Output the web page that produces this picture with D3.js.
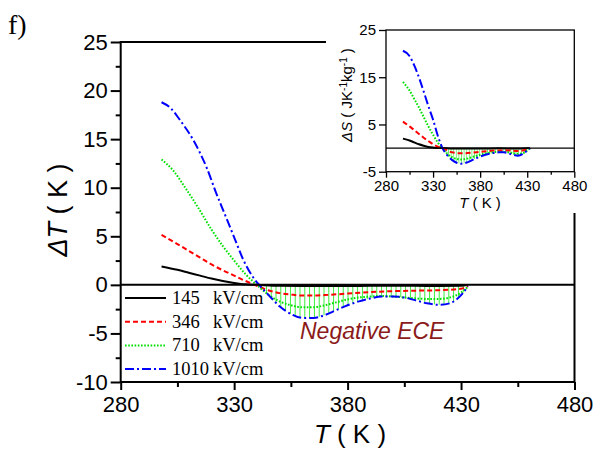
<!DOCTYPE html>
<html><head><meta charset="utf-8">
<script src="https://cdn.jsdelivr.net/npm/d3@7"></script>
<style>body{margin:0;background:#fff}svg{display:block}</style>
</head><body>
<script>
// ---- Data (main panel: ΔT in K vs T in K) ----
const T145 = [298,305,310,315,320,325,330,335,340,350,360,370,380,390,400,410,420,430,433];
const dT145 = [1.9,1.55,1.25,0.95,0.65,0.4,0.2,0.05,0,-0.1,-0.12,-0.12,-0.12,-0.1,-0.1,-0.1,-0.12,-0.1,0];
const T346 = [298,305,310,315,320,325,330,335,338,340,345,350,355,360,365,370,380,390,400,410,420,430,433];
const dT346 = [5.15,4.2,3.5,2.8,2.1,1.5,0.95,0.4,0.1,-0.1,-0.55,-0.85,-1.0,-1.1,-1.1,-1.05,-0.9,-0.75,-0.65,-0.6,-0.55,-0.4,-0.1];
const T710 = [298,303,309,314,320,325,330,335,340,345,350,355,360,365,370,375,380,385,390,395,400,405,410,415,420,425,430,433];
const dT710 = [12.9,11.8,9.8,8.0,5.7,4.0,2.5,1.1,0,-1.0,-1.7,-2.1,-2.3,-2.3,-2.1,-1.8,-1.5,-1.3,-1.2,-1.15,-1.2,-1.3,-1.4,-1.45,-1.45,-1.3,-0.8,-0.2];
const T1010 = [298,302,306,312,318,322,326,330,334,338,341,345,350,355,360,365,370,375,380,385,390,395,400,405,410,415,420,425,428,431,433];
const dT1010 = [18.8,18.2,17.0,14.9,12.0,9.5,7.2,4.9,2.6,0.9,0,-1.0,-2.2,-3.0,-3.4,-3.4,-3.1,-2.6,-2.1,-1.7,-1.4,-1.2,-1.2,-1.3,-1.6,-1.9,-2.05,-1.9,-1.5,-0.8,-0.15];

// ---- Data (inset: ΔS in J K^-1 kg^-1 vs T) ----
const sT145 = [298,305,310,315,320,325,330,335,340,350,380,400,420,433];
const dS145 = [2.0,1.6,1.2,0.8,0.5,0.25,0.1,0,0,-0.1,-0.1,-0.05,-0.1,0];
const sT346 = [298,305,310,315,320,325,330,335,340,345,350,360,370,380,390,400,410,420,430,433];
const dS346 = [5.6,4.6,3.8,3.0,2.2,1.5,0.8,0.3,0,-0.5,-0.9,-1.1,-1.0,-0.8,-0.6,-0.5,-0.5,-0.6,-0.3,0];
const sT710 = [298,305,310,315,320,325,330,335,340,345,350,355,360,365,370,380,390,400,410,420,425,430,433];
const dS710 = [14.0,12.2,10.4,8.6,6.6,4.6,2.8,1.2,0,-1.2,-1.9,-2.3,-2.4,-2.3,-2.0,-1.4,-1.0,-0.8,-0.9,-1.2,-1.1,-0.5,0];
const sT1010 = [298,305,310,316,320,326,330,335,340,345,350,355,360,365,370,375,380,390,400,405,410,415,420,425,430,433];
const dS1010 = [20.6,19.5,17.5,14.4,12.0,8.3,6.0,2.6,0,-1.5,-2.5,-3.1,-3.3,-3.1,-2.7,-2.2,-1.8,-1.2,-0.9,-0.9,-1.1,-1.4,-1.6,-1.3,-0.5,0];

// ---- Labels / ticks ----
const fields = ["145", "346", "710", "1010"];
const unit = "kV/cm";
const colors = ["#000000", "#ff0000", "#00e000", "#0000ff"];
const dashes = [null, "5,3", "1.6,1.6", "9,3,2,3"];
const xTicks = [280, 330, 380, 430, 480];
const xMinor = [305, 355, 405, 455];
const yTicks = [25, 20, 15, 10, 5, 0, -5, -10];
const yMinor = [22.5, 17.5, 12.5, 7.5, 2.5, -2.5, -7.5];
const insetYTicks = [25, 15, 5, -5];
const annotation = "Negative ECE";

const W = 604, H = 450;
const svg = d3.select("body").append("svg").attr("width", W).attr("height", H);
const fmt = d => String(d);

const defs = svg.append("defs");
defs.append("pattern").attr("id", "hatch").attr("patternUnits", "userSpaceOnUse")
  .attr("width", 4.8).attr("height", 10)
  .append("line").attr("x1", 2.4).attr("x2", 2.4).attr("y1", 0).attr("y2", 10)
  .attr("stroke", "#33ee33").attr("stroke-width", 1);
defs.append("pattern").attr("id", "hatch2").attr("patternUnits", "userSpaceOnUse")
  .attr("width", 2.6).attr("height", 10)
  .append("line").attr("x1", 1.3).attr("x2", 1.3).attr("y1", 0).attr("y2", 10)
  .attr("stroke", "#55ee55").attr("stroke-width", 0.8);

const series = [[T145, dT145], [T346, dT346], [T710, dT710], [T1010, dT1010]];
const iseries = [[sT145, dS145], [sT346, dS346], [sT710, dS710], [sT1010, dS1010]];

// ---- Main panel ----
const x = d3.scaleLinear().domain([280, 480]).range([120.7, 574.5]);
const y = d3.scaleLinear().domain([-10, 25]).range([382, 42]);
const main = svg.append("g");

const line = d3.line().x(d => x(d[0])).y(d => y(d[1])).curve(d3.curveMonotoneX);
const zip = (a, b) => a.map((t, i) => [t, b[i]]);

const negBlue = zip(T1010, dT1010).filter(d => d[0] >= 341);
main.append("path").datum(negBlue)
  .attr("d", d3.area().x(d => x(d[0])).y0(y(0)).y1(d => y(d[1])).curve(d3.curveMonotoneX))
  .attr("fill", "url(#hatch)");

series.forEach((s, i) => {
  main.append("path").datum(zip(s[0], s[1])).attr("d", line)
    .attr("fill", "none").attr("stroke", colors[i]).attr("stroke-width", 2)
    .attr("stroke-dasharray", dashes[i]);
});
main.append("line").attr("x1", x(280)).attr("x2", x(480)).attr("y1", y(0)).attr("y2", y(0))
  .attr("stroke", "#000").attr("stroke-width", 2);

const gx = main.append("g").attr("transform", `translate(0,${y(-10)})`)
  .call(d3.axisBottom(x).tickValues(xTicks).tickFormat(fmt).tickSize(8).tickSizeOuter(0).tickPadding(6));
const gxm = main.append("g").attr("transform", `translate(0,${y(-10)})`)
  .call(d3.axisBottom(x).tickValues(xMinor).tickSize(5).tickFormat(""));
const gy = main.append("g").attr("transform", `translate(${x(280)},0)`)
  .call(d3.axisLeft(y).tickValues(yTicks).tickFormat(fmt).tickSize(10).tickSizeOuter(0).tickPadding(3));
const gym = main.append("g").attr("transform", `translate(${x(280)},0)`)
  .call(d3.axisLeft(y).tickValues(yMinor).tickSize(5).tickFormat(""));
[gx, gxm, gy, gym].forEach(g => {
  g.select(".domain").remove();
  g.selectAll(".tick line").attr("stroke", "#000").attr("stroke-width", 2);
  g.selectAll("text").attr("font-family", "Arial, 'Liberation Sans', sans-serif")
    .attr("font-size", 22).attr("fill", "#000");
});
gx.selectAll("text").attr("dy", "0.71em");
main.append("rect").attr("x", x(280)).attr("y", y(25))
  .attr("width", x(480) - x(280)).attr("height", y(-10) - y(25))
  .attr("fill", "none").attr("stroke", "#000").attr("stroke-width", 2);

const legend = main.append("g");
fields.forEach((f, i) => {
  const ly = 298 + i * 23.7;
  legend.append("line").attr("x1", 125).attr("x2", 166).attr("y1", ly).attr("y2", ly)
    .attr("stroke", colors[i]).attr("stroke-width", 2).attr("stroke-dasharray", dashes[i]);
  legend.append("text").attr("x", 172).attr("y", ly + 6).text(f)
    .attr("font-family", "'Liberation Serif', 'Times New Roman', serif").attr("font-size", 18.5);
  legend.append("text").attr("x", 213).attr("y", ly + 6).text(unit)
    .attr("font-family", "'Liberation Serif', 'Times New Roman', serif").attr("font-size", 18.5);
});

main.append("text").attr("x", 300).attr("y", 339).text(annotation)
  .attr("font-family", "Arial, 'Liberation Sans', sans-serif").attr("font-style", "italic")
  .attr("font-size", 23).attr("fill", "#8b1a1a");

const xt = main.append("text").attr("x", 350).attr("y", 443).attr("text-anchor", "middle")
  .attr("font-family", "Arial, 'Liberation Sans', sans-serif").attr("font-size", 26);
xt.append("tspan").attr("font-style", "italic").text("T");
xt.append("tspan").text(" ( K )");
const yt = main.append("text").attr("transform", "translate(67,210) rotate(-90)")
  .attr("text-anchor", "middle")
  .attr("font-family", "Arial, 'Liberation Sans', sans-serif").attr("font-size", 27);
yt.append("tspan").attr("font-style", "italic").text("ΔT");
yt.append("tspan").text(" ( K )");

svg.append("text").attr("x", 8).attr("y", 34).text("f)")
  .attr("font-family", "'Liberation Serif', 'Times New Roman', serif").attr("font-size", 28);

// ---- Inset ----
svg.append("rect").attr("x", 326).attr("y", 0).attr("width", W - 326).attr("height", 213).attr("fill", "#fff");
const ix = d3.scaleLinear().domain([280, 480]).range([386, 574.3]);
const iy = d3.scaleLinear().domain([-5, 25]).range([171.7, 30]);
const ins = svg.append("g");
const iline = d3.line().x(d => ix(d[0])).y(d => iy(d[1])).curve(d3.curveMonotoneX);

const inegBlue = zip(sT1010, dS1010).filter(d => d[0] >= 340);
ins.append("path").datum(inegBlue)
  .attr("d", d3.area().x(d => ix(d[0])).y0(iy(0)).y1(d => iy(d[1])).curve(d3.curveMonotoneX))
  .attr("fill", "url(#hatch2)");
iseries.forEach((s, i) => {
  ins.append("path").datum(zip(s[0], s[1])).attr("d", iline)
    .attr("fill", "none").attr("stroke", colors[i]).attr("stroke-width", 2)
    .attr("stroke-dasharray", dashes[i]);
});
ins.append("line").attr("x1", ix(280)).attr("x2", ix(480)).attr("y1", iy(0)).attr("y2", iy(0))
  .attr("stroke", "#000").attr("stroke-width", 1.3);

const igx = ins.append("g").attr("transform", `translate(0,${iy(-5)})`)
  .call(d3.axisBottom(ix).tickValues(xTicks).tickFormat(fmt).tickSize(6).tickSizeOuter(0).tickPadding(3));
const igxm = ins.append("g").attr("transform", `translate(0,${iy(-5)})`)
  .call(d3.axisBottom(ix).tickValues(xMinor).tickSize(3).tickFormat(""));
const igy = ins.append("g").attr("transform", `translate(${ix(280)},0)`)
  .call(d3.axisLeft(iy).tickValues(insetYTicks).tickFormat(fmt).tickSize(7).tickSizeOuter(0).tickPadding(3));
[igx, igxm, igy].forEach(g => {
  g.select(".domain").remove();
  g.selectAll(".tick line").attr("stroke", "#000").attr("stroke-width", 1.3);
  g.selectAll("text").attr("font-family", "Arial, 'Liberation Sans', sans-serif")
    .attr("font-size", 15).attr("fill", "#000");
});
ins.append("rect").attr("x", ix(280)).attr("y", iy(25))
  .attr("width", ix(480) - ix(280)).attr("height", iy(-5) - iy(25))
  .attr("fill", "none").attr("stroke", "#000").attr("stroke-width", 1.3);

const ixt = ins.append("text").attr("x", 480).attr("y", 208).attr("text-anchor", "middle")
  .attr("font-family", "Arial, 'Liberation Sans', sans-serif").attr("font-size", 15);
ixt.append("tspan").attr("font-style", "italic").text("T");
ixt.append("tspan").text(" ( K )");
const iyt = ins.append("text").attr("transform", "translate(352,95) rotate(-90)")
  .attr("text-anchor", "middle")
  .attr("font-family", "Arial, 'Liberation Sans', sans-serif").attr("font-size", 15);
iyt.append("tspan").attr("font-style", "italic").text("ΔS");
iyt.append("tspan").text(" ( JK");
iyt.append("tspan").attr("font-size", 10).attr("dy", -5).text("-1");
iyt.append("tspan").attr("dy", 5).text("kg");
iyt.append("tspan").attr("font-size", 10).attr("dy", -5).text("-1");
iyt.append("tspan").attr("dy", 5).text(" )");
</script>
</body></html>
